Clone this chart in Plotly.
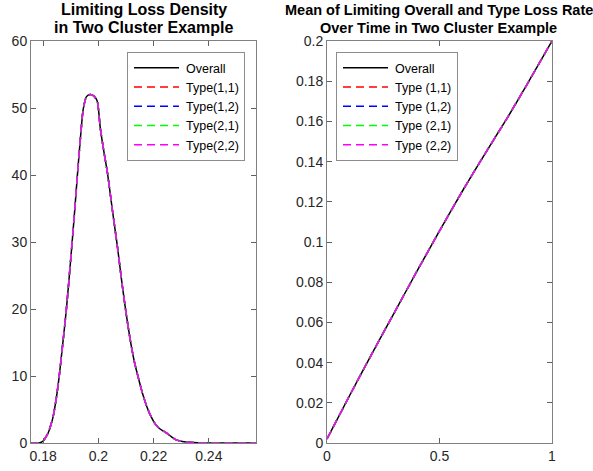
import plotly.graph_objects as go

# ---------------- data ----------------
loss_x = [0.1756, 0.1785, 0.1800, 0.1818, 0.1836, 0.1847, 0.1858, 0.1871, 0.1884,
          0.1898, 0.1912, 0.1925, 0.1935, 0.1945, 0.1957, 0.1970, 0.1983, 0.1996,
          0.2007, 0.2020, 0.2033, 0.2050, 0.2070, 0.2085, 0.2100, 0.2115, 0.2130,
          0.2145, 0.2160, 0.2175, 0.2190, 0.2205, 0.2220, 0.2235, 0.2250, 0.2265,
          0.2280, 0.2300, 0.2330, 0.2360, 0.2400, 0.2571]
density_overall = [0, 0, 0.3, 1.5, 3.9, 6.5, 9.9, 14.8, 19.9,
                   26.5, 33.5, 40.5, 45.5, 49.8, 51.7, 52.0, 51.8, 51.0,
                   47.0, 43.5, 40.3, 35.0, 29.0, 24.0, 19.5, 15.5, 12.2,
                   9.7, 7.4, 5.5, 4.0, 2.9, 2.2, 1.8, 1.4, 0.9,
                   0.5, 0.25, 0.12, 0.05, 0, 0]
density_11 = list(density_overall)
density_12 = list(density_overall)
density_21 = list(density_overall)
density_22 = list(density_overall)

time_t = [0, 0.1, 0.2, 0.3, 0.4, 0.5, 0.6, 0.7, 0.8, 0.9, 1.0]
rate_overall = [0.002, 0.0235, 0.0445, 0.065, 0.0855, 0.1055, 0.125, 0.1435, 0.1615, 0.1805, 0.2]
rate_11 = list(rate_overall)
rate_12 = list(rate_overall)
rate_21 = list(rate_overall)
rate_22 = list(rate_overall)

left_names = ["Overall", "Type(1,1)", "Type(1,2)", "Type(2,1)", "Type(2,2)"]
right_names = ["Overall", "Type (1,1)", "Type (1,2)", "Type (2,1)", "Type (2,2)"]
colors = ["#000000", "#ff0000", "#0000ff", "#00ff00", "#ff00ff"]
dashes = ["solid", "8px,5px", "8px,5px", "8px,5px", "8px,5px"]

left_x_ticks = [0.18, 0.2, 0.22, 0.24]
left_x_ticktext = ["0.18", "0.2", "0.22", "0.24"]
left_y_ticks = [0, 10, 20, 30, 40, 50, 60]
right_x_ticks = [0, 0.5, 1]
right_x_ticktext = ["0", "0.5", "1"]
right_y_ticks = [0, 0.02, 0.04, 0.06, 0.08, 0.1, 0.12, 0.14, 0.16, 0.18, 0.2]
right_y_ticktext = ["0", "0.02", "0.04", "0.06", "0.08", "0.1", "0.12", "0.14", "0.16", "0.18", "0.2"]

left_title = ["Limiting Loss Density", "in Two Cluster Example"]
right_title = ["Mean of Limiting Overall and Type Loss Rate", "Over Time in Two Cluster Example"]

# ---------------- figure ----------------
W, H = 593, 471
FONT = "Liberation Sans, Arial"
fig = go.Figure()

left_series = [density_overall, density_11, density_12, density_21, density_22]
right_series = [rate_overall, rate_11, rate_12, rate_21, rate_22]

for name, ys, c, d in zip(left_names, left_series, colors, dashes):
    fig.add_trace(go.Scatter(x=loss_x, y=ys, mode="lines", name=name,
                             line=dict(color=c, dash=d, width=1.5, shape="spline", smoothing=0.6),
                             xaxis="x", yaxis="y", legend="legend"))
for name, ys, c, d in zip(right_names, right_series, colors, dashes):
    fig.add_trace(go.Scatter(x=time_t, y=ys, mode="lines", name=name,
                             line=dict(color=c, dash=d, width=1.5, shape="spline", smoothing=0.6),
                             xaxis="x2", yaxis="y2", legend="legend2"))

ydom = [1 - 443 / H, 1 - 41 / H]
axis_common = dict(showgrid=False, zeroline=False, showline=True, linecolor="#808080",
                   linewidth=1, mirror="ticks", ticks="inside", ticklen=5, automargin=False,
                   tickcolor="#606060", tickfont=dict(family=FONT, size=14, color="#262626"))

legend_common = dict(xanchor="left", yanchor="top", bgcolor="white",
                     bordercolor="#8c8c8c", borderwidth=1, itemwidth=48,
                     font=dict(family=FONT, size=12.5, color="#000000"), tracegroupgap=0)

annotations = []
for titles, cx, fs in [(left_title, 143.5, 16), (right_title, 438.5, 14.5)]:
    for txt, yc in zip(titles, [10, 28]):
        annotations.append(dict(text="<b>" + txt + "</b>", x=cx / W, y=1 - yc / H,
                                xref="paper", yref="paper", xanchor="center", yanchor="middle",
                                showarrow=False, font=dict(family=FONT, size=fs, color="#000000")))

fig.update_layout(
    width=W, height=H,
    margin=dict(l=0, r=0, t=0, b=0),
    paper_bgcolor="white", plot_bgcolor="white",
    xaxis=dict(domain=[31 / W, 256 / W], range=[0.1756, 0.2571], tickvals=left_x_ticks,
               ticktext=left_x_ticktext, anchor="y", **axis_common),
    yaxis=dict(domain=ydom, range=[0, 60], tickvals=left_y_ticks, anchor="x", **axis_common),
    xaxis2=dict(domain=[327 / W, 552 / W], range=[0, 1], tickvals=right_x_ticks,
                ticktext=right_x_ticktext, anchor="y2", **axis_common),
    yaxis2=dict(domain=ydom, range=[0, 0.2], tickvals=right_y_ticks, ticktext=right_y_ticktext,
                anchor="x2", **axis_common),
    legend=dict(x=127 / W, y=1 - 52 / H, **legend_common),
    legend2=dict(x=336 / W, y=1 - 52 / H, **legend_common),
    annotations=annotations,
)

post = (
    "document.body.style.margin='0px';document.body.style.overflow='hidden';"
    "document.querySelectorAll('.legendlines path').forEach(function(p){p.setAttribute('d','M6,0h45');});"
)
fig.write_html("out.html", config={"displayModeBar": False}, post_script=post)
